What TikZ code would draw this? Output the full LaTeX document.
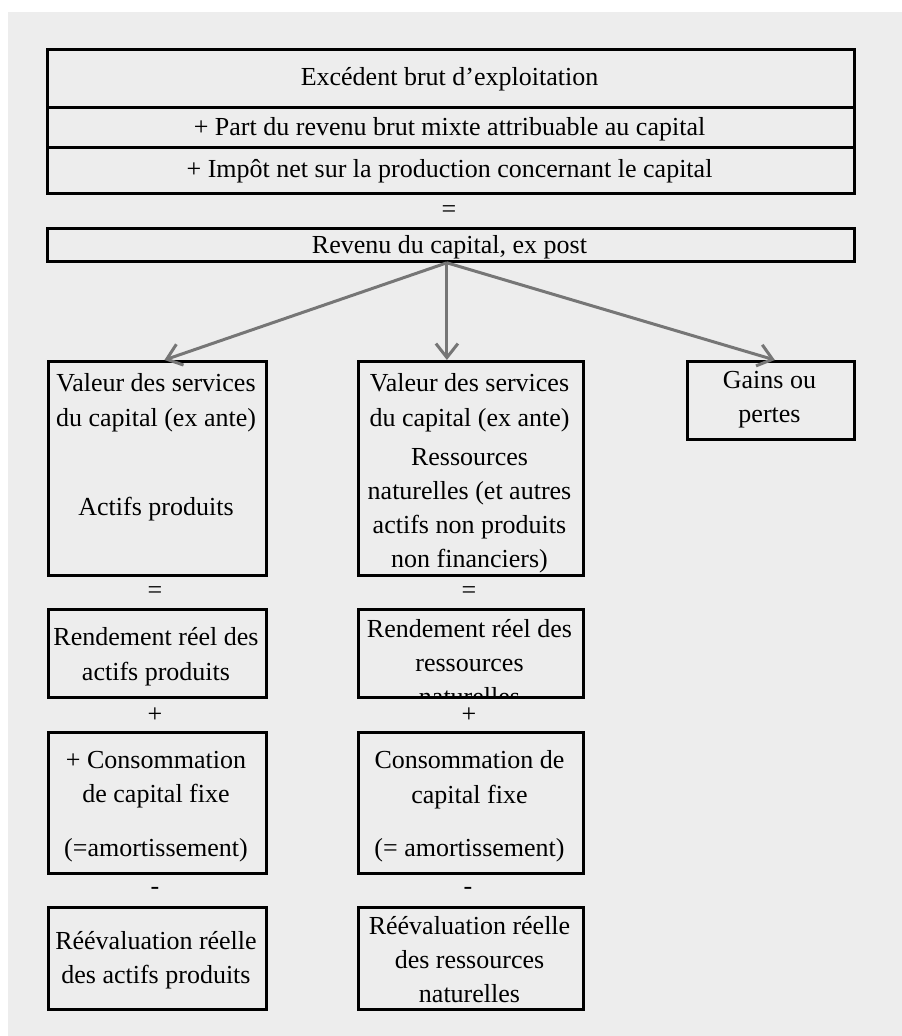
\documentclass[tikz,border=0pt]{standalone}
\usepackage{fontspec}
\setmainfont{Liberation Serif}
\usetikzlibrary{arrows.meta}
\definecolor{bg}{HTML}{EDEDED}
\definecolor{arrowgray}{HTML}{767676}
\begin{document}
\begin{tikzpicture}[x=1pt,y=-1pt,
  box/.style={draw=black,line width=2.8pt,inner sep=0pt,anchor=north west},
  txt/.style={font=\fontsize{26}{34.5}\selectfont,align=center,inner sep=0pt,text=black,yshift=-2.5pt},
  sym/.style={font=\fontsize{26}{30}\selectfont,inner sep=0pt,text=black},
  arr/.style={draw=arrowgray,line width=3pt,-{Straight Barb[length=14pt,width=22pt]}}]
\useasboundingbox (0,0) rectangle (902,1036);
\fill[white] (0,0) rectangle (902,1036);
\fill[bg] (8,12) rectangle (902,1036);

% top stacked boxes
\node[box,minimum width=807pt,minimum height=58pt] (r1) at (46,48) {};
\node[box,minimum width=807pt,minimum height=40pt] (r2) at (46,106) {};
\node[box,minimum width=807pt,minimum height=46pt] (r3) at (46,146) {};
\node[txt] (t1) at (449.5,77) {Excédent brut d’exploitation};
\node[txt] (t2) at (449.5,127) {+ Part du revenu brut mixte attribuable au capital};
\node[txt] (t3) at (449.5,169) {+ Impôt net sur la production concernant le capital};
\node[sym] (eq0) at (449,212) {=};
\node[box,minimum width=807pt,minimum height=33pt] (rev) at (46,227) {};
\node[txt] (trev) at (449.5,245) {Revenu du capital, ex post};

% second level boxes
\node[box,minimum width=218pt,minimum height=214pt] (vl) at (47,360) {};
\node[box,minimum width=225pt,minimum height=214pt] (vm) at (357,360) {};
\node[box,minimum width=167pt,minimum height=78pt] (gp) at (686,360) {};
\node[txt] (vlt) at (156,400) {Valeur des services\\du capital (ex ante)};
\node[txt] (vlt2) at (156,507) {Actifs produits};
\node[txt] (vmt) at (469.5,400) {Valeur des services\\du capital (ex ante)};
\node[txt,font=\fontsize{26}{34}\selectfont] (vmt2) at (469.5,508.5) {Ressources\\naturelles (et autres\\actifs non produits\\non financiers)};
\node[txt] (gpt) at (769.5,397) {Gains ou\\pertes};

\draw[arr] ([xshift=-4pt]rev.south) -- ([xshift=7pt]vl.north);
\draw[arr] ([xshift=-4pt]rev.south) -- ([xshift=-4pt]rev.south |- vm.north);
\draw[arr] ([xshift=-4pt]rev.south) -- ([xshift=4pt]gp.north);

% = signs
\node[sym] (eq1) at (155,593) {=};
\node[sym] (eq2) at (469,593) {=};

% rendement
\node[box,minimum width=218pt,minimum height=88pt] (rl) at (47,608) {};
\node[box,minimum width=225pt,minimum height=88pt] (rm) at (357,608) {};
\node[txt] (rlt) at (156,654) {Rendement réel des\\actifs produits};
\begin{scope}
  \clip (rm.north west) rectangle (rm.south east);
  \node[txt,font=\fontsize{26}{34}\selectfont] (rmt) at (469.5,660) {Rendement réel des\\ressources\\naturelles};
\end{scope}

% + signs
\node[sym] (pl1) at (155,715) {+};
\node[sym] (pl2) at (469,715) {+};

% consommation
\node[box,minimum width=218pt,minimum height=141pt] (cl) at (47,731) {};
\node[box,minimum width=225pt,minimum height=141pt] (cm) at (357,731) {};
\node[txt] (clt) at (156,777) {+ Consommation\\de capital fixe};
\node[txt] (clt2) at (156,848) {(=amortissement)};
\node[txt] (cmt) at (469.5,777) {Consommation de\\capital fixe};
\node[txt] (cmt2) at (469.5,848) {(= amortissement)};

% - signs
\node[sym] (mi1) at (155,891) {-};
\node[sym] (mi2) at (468,891) {-};

% reevaluation
\node[box,minimum width=218pt,minimum height=102pt] (el) at (47,906) {};
\node[box,minimum width=225pt,minimum height=102pt] (em) at (357,906) {};
\node[txt] (elt) at (156,957.5) {Réévaluation réelle\\des actifs produits};
\node[txt,font=\fontsize{26}{34}\selectfont] (emt) at (469.5,957) {Réévaluation réelle\\des ressources\\naturelles};
\end{tikzpicture}
\end{document}
